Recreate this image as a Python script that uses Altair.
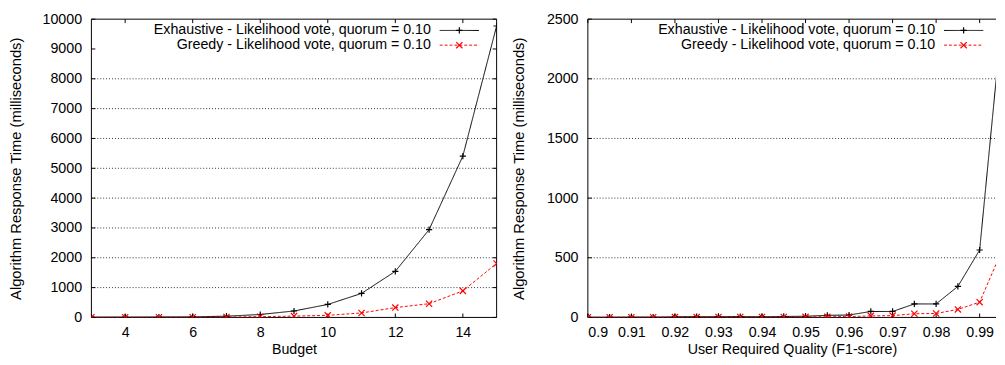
import altair as alt
import pandas as pd

# ---------------- data ----------------
budget = [3, 4, 5, 6, 7, 8, 9, 10, 11, 12, 13, 14, 15]
budget_exhaustive = [10, 12, 15, 20, 42, 98, 216, 435, 805, 1546, 2941, 5410, 9770]
budget_greedy = [5, 5, 5, 8, 15, 25, 45, 70, 150, 330, 460, 890, 1810]

quality = [0.9, 0.905, 0.91, 0.915, 0.92, 0.925, 0.93, 0.935, 0.94, 0.945,
           0.95, 0.955, 0.96, 0.965, 0.97, 0.975, 0.98, 0.985, 0.99, 0.995]
quality_exhaustive = [2, 2, 3, 3, 5, 7, 7, 7, 7, 8,
                      10, 18, 20, 50, 50, 113, 113, 260, 565, 2450]
quality_greedy = [1, 1, 2, 2, 3, 3, 4, 4, 4, 4,
                  5, 6, 7, 13, 15, 31, 33, 67, 128, 550]

series_names = ["Exhaustive - Likelihood vote, quorum = 0.10",
                "Greedy - Likelihood vote, quorum = 0.10"]
series_colors = ["#000000", "#ff0000"]
series_dash = [[1, 0], [3, 2]]
plus_path = "M-1,0L1,0M0,-1L0,1"
cross_path = "M-1,-1L1,1M-1,1L1,-1"

budget_xticks = [4, 6, 8, 10, 12, 14]
budget_yticks = [0, 1000, 2000, 3000, 4000, 5000, 6000, 7000, 8000, 9000, 10000]
budget_grid = [1000, 2000, 3000, 4000, 5000, 6000, 7000, 8000]

quality_xticks = [0.9, 0.91, 0.92, 0.93, 0.94, 0.95, 0.96, 0.97, 0.98, 0.99]
quality_yticks = [0, 500, 1000, 1500, 2000, 2500]
quality_grid = [500, 1000, 1500, 2000]

Y_TITLE = "Algorithm Response Time (milliseconds)"
FONT = "Liberation Sans"
H = 304
TICK = 4


def panel(xs, ex, gr, xdomain, ydomain, xticks, yticks, grid, xtitle, W,
          right_border, legend_text_x, xfmt, ytitle_pad):
    df = pd.DataFrame({
        "x": list(xs) + list(xs),
        "y": list(ex) + list(gr),
        "series": [series_names[0]] * len(xs) + [series_names[1]] * len(xs),
    })
    xs_ = alt.Scale(domain=xdomain, nice=False, zero=False)
    ys_ = alt.Scale(domain=ydomain, nice=False, zero=False)
    x_axis = alt.Axis(values=xticks, ticks=False, domain=False, grid=False, format=xfmt,
                      labelPadding=8, title=xtitle, titlePadding=4, titleFontSize=14.5)
    y_axis = alt.Axis(values=yticks, ticks=False, domain=False, grid=False, format="d",
                      labelPadding=10, title=Y_TITLE, titlePadding=ytitle_pad, titleFontSize=15)

    def X(f):
        return alt.X(f, scale=xs_, axis=x_axis)

    def Y(f):
        return alt.Y(f, scale=ys_, axis=y_axis)

    color = alt.Color("series:N", scale=alt.Scale(domain=series_names, range=series_colors), legend=None)
    one = alt.Data(values=[{"a": 1}])

    grid_layer = alt.Chart(pd.DataFrame({"g": grid})).mark_rule(
        color="#333333", strokeDash=[1, 2], strokeWidth=1
    ).encode(y=Y("g:Q"), x=alt.value(0), x2=alt.value(W))

    lines = alt.Chart(df).mark_line(strokeWidth=1, clip=True).encode(
        x=X("x:Q"), y=Y("y:Q"), color=color,
        strokeDash=alt.StrokeDash("series:N", scale=alt.Scale(domain=series_names, range=series_dash), legend=None),
    )
    points = alt.Chart(df).mark_point(filled=False, strokeWidth=1.2, size=40, clip=True, opacity=1).encode(
        x=X("x:Q"), y=Y("y:Q"), color=color,
        shape=alt.Shape("series:N", scale=alt.Scale(domain=series_names, range=[plus_path, cross_path]), legend=None),
    )

    xt = pd.DataFrame({"t": xticks})
    yt = pd.DataFrame({"t": yticks})
    tick_layers = [
        alt.Chart(xt).mark_rule(color="black", strokeWidth=1).encode(
            x=X("t:Q"), y=alt.value(H), y2=alt.value(H - TICK)),
        alt.Chart(xt).mark_rule(color="black", strokeWidth=1).encode(
            x=X("t:Q"), y=alt.value(0), y2=alt.value(TICK)),
        alt.Chart(yt).mark_rule(color="black", strokeWidth=1).encode(
            y=Y("t:Q"), x=alt.value(0), x2=alt.value(TICK)),
    ]
    if right_border:
        tick_layers.append(alt.Chart(yt).mark_rule(color="black", strokeWidth=1).encode(
            y=Y("t:Q"), x=alt.value(W - TICK), x2=alt.value(W)))

    borders = [
        alt.Chart(one).mark_rule(color="black", strokeWidth=1).encode(x=alt.value(0), x2=alt.value(W), y=alt.value(0)),
        alt.Chart(one).mark_rule(color="black", strokeWidth=1).encode(x=alt.value(0), x2=alt.value(W), y=alt.value(H)),
        alt.Chart(one).mark_rule(color="black", strokeWidth=1).encode(x=alt.value(0), y=alt.value(0), y2=alt.value(H)),
    ]
    if right_border:
        borders.append(alt.Chart(one).mark_rule(color="black", strokeWidth=1).encode(
            x=alt.value(W), y=alt.value(0), y2=alt.value(H)))

    legend_layers = []
    rows = [11.5, 26.5]
    shapes = [plus_path, cross_path]
    for i, name in enumerate(series_names):
        ry = rows[i]
        legend_layers.append(alt.Chart(one).mark_text(
            text=name, align="right", baseline="middle", font=FONT, fontSize=14.5, color="black"
        ).encode(x=alt.value(legend_text_x), y=alt.value(ry)))
        legend_layers.append(alt.Chart(one).mark_rule(
            color=series_colors[i], strokeWidth=1, strokeDash=series_dash[i]
        ).encode(x=alt.value(legend_text_x + 9), x2=alt.value(legend_text_x + 49), y=alt.value(ry)))
        legend_layers.append(alt.Chart(one).mark_point(
            shape=shapes[i], filled=False, size=40, strokeWidth=1.2, color=series_colors[i], opacity=1
        ).encode(x=alt.value(legend_text_x + 29), y=alt.value(ry)))

    return alt.layer(grid_layer, *tick_layers, *borders, lines, points, *legend_layers).properties(
        width=W, height=H)


left = panel(budget, budget_exhaustive, budget_greedy, [3, 15], [0, 10000],
             budget_xticks, budget_yticks, budget_grid, "Budget", 413, True, 346, "d", 19)
right = panel(quality, quality_exhaustive, quality_greedy, [0.9, 0.99376], [0, 2500],
              quality_xticks, quality_yticks, quality_grid, "User Required Quality (F1-score)",
              416, False, 354, "~r", 20)

chart = alt.hconcat(left, right, spacing=14).properties(
    padding={"left": 0, "top": 0, "right": 0, "bottom": 0}, background="white"
).configure_view(stroke=None).configure_axis(
    labelFont=FONT, titleFont=FONT, labelFontSize=14.5, labelColor="black",
    titleColor="black", titleFontWeight="normal"
)

chart.save("out.html", embed_options={"renderer": "svg", "actions": False})
